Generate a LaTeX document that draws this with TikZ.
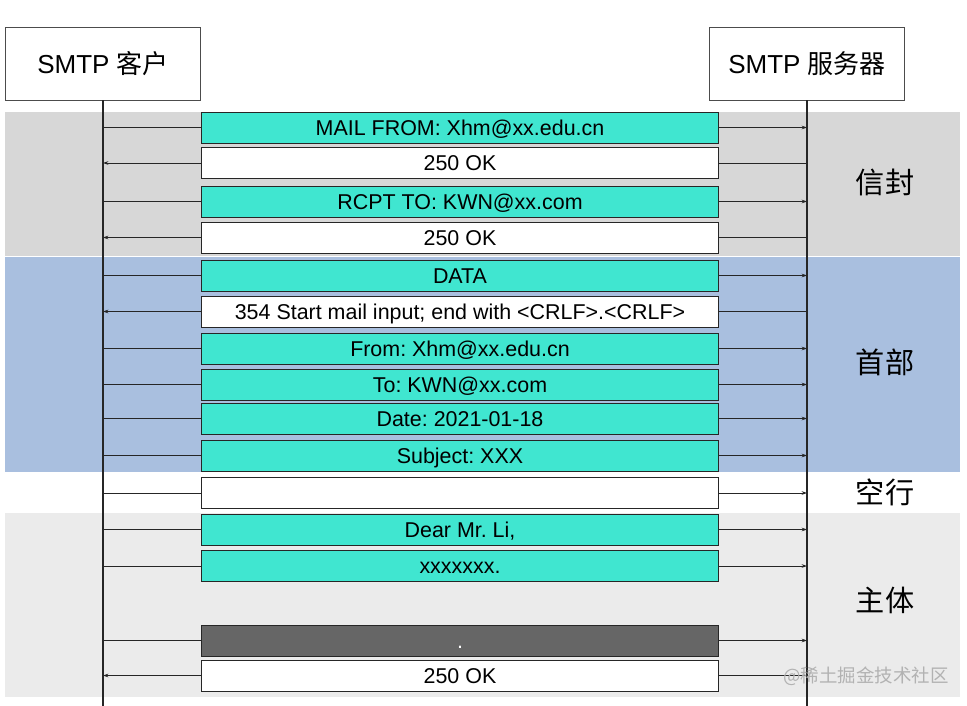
\documentclass[tikz,border=0pt]{standalone}
\usepackage{fontspec}
\setmainfont{Liberation Sans}
\newfontfamily\cjk{Noto Sans CJK SC}
\usetikzlibrary{arrows.meta}
\frenchspacing

\definecolor{msgCyan}{HTML}{40E6D0}
\definecolor{bandGrey}{HTML}{D7D7D7}
\definecolor{bandBlue}{HTML}{A9BFDF}
\definecolor{bandLight}{HTML}{EBEBEB}

\begin{document}
\begin{tikzpicture}[
		x=0.02cm, y=-0.02cm,
		% Estilos para las cajas de los mensajes
		% text height fija: la linea base queda igual en todas las cajas (tambien la del punto)
		msgBox/.style={draw=black!85, line width=0.55pt, minimum width=10.36cm, minimum height=0.62cm,
			inner sep=0pt, text height=9pt, text depth=0pt, font=\fontsize{12.2}{14}\selectfont},
		sendBox/.style={msgBox, fill=msgCyan},
		replyBox/.style={msgBox, fill=white},
		endBox/.style={msgBox, fill=black!60, text=white},
		headBox/.style={draw=black!70, fill=white, minimum width=3.9cm, minimum height=1.46cm,
			font=\fontsize{14.8}{18}\selectfont},
		partLabel/.style={font=\cjk\fontsize{16.6}{20}\selectfont},
		msgLine/.style={line width=0.5pt, black!85},
		msgArrow/.style={msgLine, -{Stealth[length=3pt, width=2pt]}}
	]

	\useasboundingbox (0,0) rectangle (967,706);

	% --- 1. Franjas de fondo ---
	\fill[bandGrey]  (5,112) rectangle (960,256);
	\fill[bandBlue]  (5,257) rectangle (960,472);
	\fill[bandLight] (5,513) rectangle (960,697);

	\node[partLabel] (env)  at (885,182) {信封};
	\node[partLabel] (hdr)  at (885,362) {首部};
	\node[partLabel] (gap)  at (885,492) {空行};
	\node[partLabel] (body) at (885,600) {主体};

	% --- 2. Cabeceras y lineas de vida ---
	\node[headBox] (cli) at (103,63.5) {SMTP {\cjk 客户}};
	\node[headBox] (srv) at (807,63.5) {SMTP {\cjk 服务器}};

	\coordinate (cliEnd) at (103,706);
	\coordinate (srvEnd) at (807,706);
	\draw[line width=0.7pt, black!85] (cli.south) -- (cliEnd);
	\draw[line width=0.7pt, black!85] (srv.south) -- (srvEnd);

	% --- 3. Mensajes ---
	\node[sendBox]  (m1)  at (460,127.5) {MAIL FROM: Xhm@xx.edu.cn};
	\node[replyBox] (m2)  at (460,163)   {250 OK};
	\node[sendBox]  (m3)  at (460,201.5) {RCPT TO: KWN@xx.com};
	\node[replyBox] (m4)  at (460,237.5) {250 OK};
	\node[sendBox]  (m5)  at (460,275.5) {DATA};
	\node[replyBox] (m6)  at (460,311.5) {354 Start mail input; end with <CRLF>.<CRLF>};
	\node[sendBox]  (m7)  at (460,348.5) {From: Xhm@xx.edu.cn};
	\node[sendBox]  (m8)  at (460,384.5) {To: KWN@xx.com};
	\node[sendBox]  (m9)  at (460,418.5) {Date: 2021-01-18};
	\node[sendBox]  (m10) at (460,455.5) {Subject: XXX};
	\node[replyBox] (m11) at (460,493)   {};
	\node[sendBox]  (m12) at (460,529.5) {Dear Mr. Li,};
	\node[sendBox]  (m13) at (460,566)   {xxxxxxx.};
	\node[endBox]   (m14) at (460,640.5) {.};
	\node[replyBox] (m15) at (460,675.5) {250 OK};

	% --- 4. Conexiones cliente -> servidor ---
	\draw[msgLine] (cli.south |- m1.west) -- (m1.west);   \draw[msgArrow] (m1.east) -- (m1.east -| srv.south);
	\draw[msgLine] (cli.south |- m3.west) -- (m3.west);   \draw[msgArrow] (m3.east) -- (m3.east -| srv.south);
	\draw[msgLine] (cli.south |- m5.west) -- (m5.west);   \draw[msgArrow] (m5.east) -- (m5.east -| srv.south);
	\draw[msgLine] (cli.south |- m7.west) -- (m7.west);   \draw[msgArrow] (m7.east) -- (m7.east -| srv.south);
	\draw[msgLine] (cli.south |- m8.west) -- (m8.west);   \draw[msgArrow] (m8.east) -- (m8.east -| srv.south);
	\draw[msgLine] (cli.south |- m9.west) -- (m9.west);   \draw[msgArrow] (m9.east) -- (m9.east -| srv.south);
	\draw[msgLine] (cli.south |- m10.west) -- (m10.west); \draw[msgArrow] (m10.east) -- (m10.east -| srv.south);
	\draw[msgLine] (cli.south |- m11.west) -- (m11.west); \draw[msgArrow] (m11.east) -- (m11.east -| srv.south);
	\draw[msgLine] (cli.south |- m12.west) -- (m12.west); \draw[msgArrow] (m12.east) -- (m12.east -| srv.south);
	\draw[msgLine] (cli.south |- m13.west) -- (m13.west); \draw[msgArrow] (m13.east) -- (m13.east -| srv.south);
	\draw[msgLine] (cli.south |- m14.west) -- (m14.west); \draw[msgArrow] (m14.east) -- (m14.east -| srv.south);

	% --- 5. Respuestas servidor -> cliente ---
	\draw[msgLine] (srv.south |- m2.east) -- (m2.east);   \draw[msgArrow] (m2.west) -- (m2.west -| cli.south);
	\draw[msgLine] (srv.south |- m4.east) -- (m4.east);   \draw[msgArrow] (m4.west) -- (m4.west -| cli.south);
	\draw[msgLine] (srv.south |- m6.east) -- (m6.east);   \draw[msgArrow] (m6.west) -- (m6.west -| cli.south);
	\draw[msgLine] (srv.south |- m15.east) -- (m15.east); \draw[msgArrow] (m15.west) -- (m15.west -| cli.south);

	% marca de agua
	\node[text=black!30, font=\cjk\fontsize{10.5}{12}\selectfont] (mark) at (866,676) {@稀土掘金技术社区};

\end{tikzpicture}
\end{document}
